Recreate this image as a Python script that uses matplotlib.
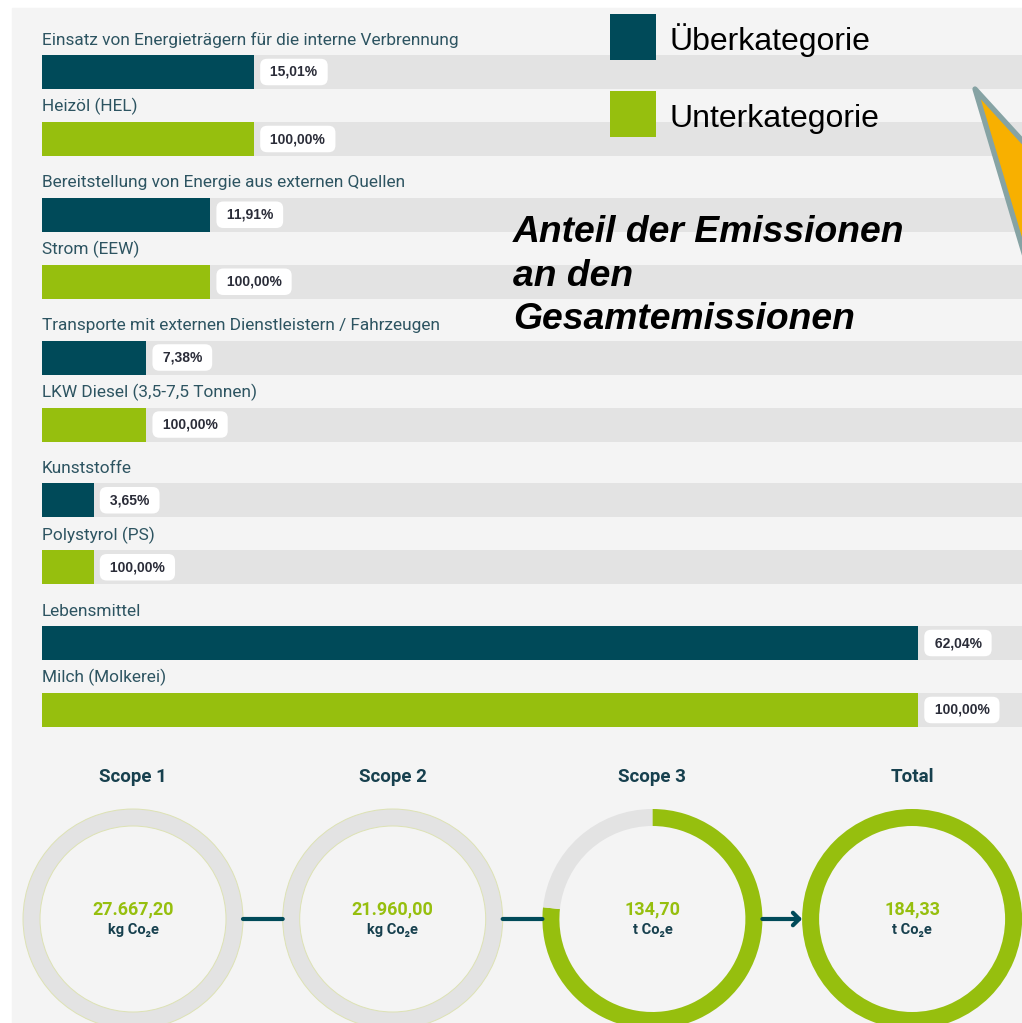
import matplotlib.pyplot as plt
from matplotlib.patches import Rectangle, Polygon

# --- data ---
categories = ['Einsatz von Energieträgern für die interne Verbrennung',
              'Bereitstellung von Energie aus externen Quellen',
              'Transporte mit externen Dienstleistern / Fahrzeugen',
              'Kunststoffe',
              'Lebensmittel']
shares = [15.01, 11.91, 7.38, 3.65, 62.04]          # % of total emissions
subcategories = ['Heizöl (HEL)', 'Strom (EEW)', 'LKW Diesel (3,5-7,5 Tonnen)',
                 'Polystyrol (PS)', 'Milch (Molkerei)']
sub_shares = [100.0, 100.0, 100.0, 100.0, 100.0]    # % of parent category

scope_names = ['Scope 1', 'Scope 2', 'Scope 3', 'Total']
scope_values = [27667.20, 21960.00, 134.70, 184.33]
scope_units = ['kg', 'kg', 't', 't']
ring_fill = [0.0, 0.0, 0.767, 1.0]                  # share of ring coloured green

legend_labels = ['Überkategorie', 'Unterkategorie']
title_lines = ['Anteil der Emissionen', 'an den', 'Gesamtemissionen']

# --- styles ---
DARK = '#004a59'
GREEN = '#96bf0e'
TRACK = '#e3e3e3'
BG = '#f4f4f4'
LABEL = '#2d5461'
VALTXT = '#2a2c38'
SCOPE = '#17404e'
DIN = ['Roboto', 'DejaVu Sans']
ARIAL = ['Liberation Sans', 'DejaVu Sans']


def de(v, suffix=''):
    # german number format 1.234,56
    s = f'{v:,.2f}'.replace(',', 'X').replace('.', ',').replace('X', '.')
    return s + suffix


W, H = 1022, 1023
fig = plt.figure(figsize=(W / 100, H / 100), dpi=100)
fig.add_artist(Rectangle((12 / W, 0), 1, 1 - 8 / H, transform=fig.transFigure,
                         color=BG, zorder=-1))

# bar area: x in percent, y in pixels from top
px_per_pct = 14.12
x0 = 42
bx = fig.add_axes([0, 0, 1, 1])
bx.set_xlim(-x0 / px_per_pct, (W - x0) / px_per_pct)
bx.set_ylim(H, 0)
bx.axis('off')

bar_h = 34
for i, (cat, sh, sub, ss) in enumerate(zip(categories, shares, subcategories, sub_shares)):
    top = 55 + 142.75 * i
    rows = [(cat, sh, sh, DARK, top), (sub, ss, sh * ss / 100, GREEN, top + 67)]
    for name, pct, length, col, t in rows:
        yc = t + bar_h / 2
        bx.barh(yc, 100, height=bar_h, color=TRACK, lw=0)
        bx.barh(yc, length, height=bar_h, color=col, lw=0)
        bx.text(0, t - 10.5, name, va='baseline', ha='left', fontsize=12.4,
                color=LABEL, family=DIN)
        bx.annotate(' ' + de(pct, '%') + ' ', xy=(length, yc), xytext=(9, 0),
                    textcoords='offset points', ha='left', va='center',
                    fontsize=10, fontweight='bold', color=VALTXT, family=ARIAL,
                    bbox=dict(boxstyle='round,pad=0.45,rounding_size=0.5',
                              fc='white', ec='none'))

# overlay: legend, title, callout
ax = fig.add_axes([0, 0, 1, 1])
ax.set_xlim(0, W)
ax.set_ylim(H, 0)
ax.axis('off')

for k, (lab, col) in enumerate(zip(legend_labels, [DARK, GREEN])):
    ytop = 14 + 77 * k
    ax.add_patch(Rectangle((610, ytop), 46, 46, color=col, lw=0))
    ax.text(670, ytop + 36, lab, fontsize=23, family=ARIAL, va='baseline',
            color='black')

for k, line in enumerate(title_lines):
    ax.text(513, 242 + 43.5 * k, line, fontsize=26.8, fontweight='bold',
            fontstyle='italic', family=ARIAL, va='baseline', color='black')

ax.add_patch(Polygon([(975, 89), (1080, 204), (1080, 300), (1038, 300)],
                     closed=True, fc='#f8b000', ec='#86a3a4', lw=3.8,
                     joinstyle='round'))

# scope rings
dx = fig.add_axes([0, 0, 1, 1])
cy = H - 919
cxs = [133 + 259.7 * i for i in range(len(scope_names))]
R, ring_w = 110, 17
for cx, name, val, unit, f in zip(cxs, scope_names, scope_values, scope_units, ring_fill):
    wedges, _ = dx.pie([f, 1 - f], radius=R, center=(cx, cy), startangle=90,
                       counterclock=False, colors=[GREEN, TRACK],
                       wedgeprops=dict(width=ring_w, lw=0))
    if f == 0:
        wedges[1].set_edgecolor('#dde2b4')
        wedges[1].set_linewidth(0.7)
    dx.text(cx, H - 777, name, ha='center', va='center', fontsize=13.5,
            fontweight='bold', color=SCOPE, family=DIN)
    dx.text(cx, H - 909, de(val), ha='center', va='center', fontsize=13,
            fontweight='bold', color=GREEN, family=DIN)
    dx.text(cx, H - 930, unit + ' Co\u2082e', ha='center', va='center', fontsize=10.5,
            fontweight='bold', color=SCOPE, family=DIN)

for i in range(len(cxs) - 1):
    style = '-' if i < len(cxs) - 2 else '->,head_length=0.45,head_width=0.45'
    dx.annotate('', xy=(cxs[i + 1] - R, cy), xytext=(cxs[i] + R, cy),
                arrowprops=dict(arrowstyle=style, lw=3, color=DARK,
                                shrinkA=0, shrinkB=0))

dx.set_xlim(0, W)
dx.set_ylim(0, H)
dx.set_aspect('auto')
dx.axis('off')

fig.savefig('out.png', dpi=100, facecolor='white')
